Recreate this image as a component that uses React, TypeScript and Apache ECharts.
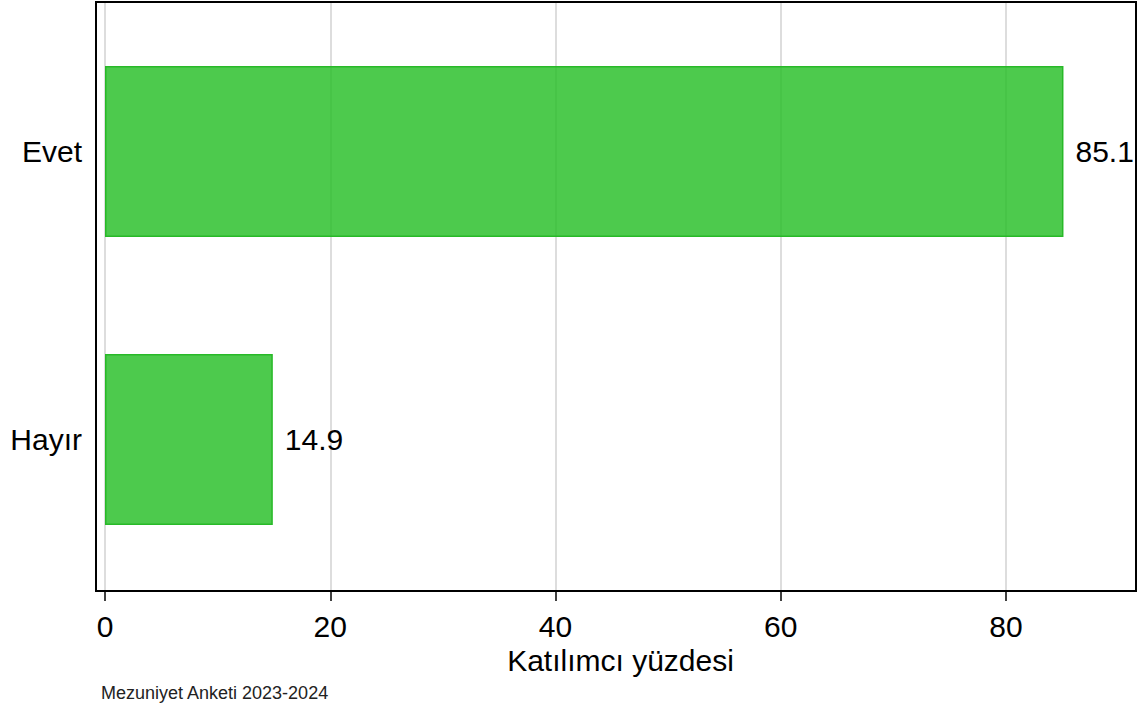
import React, { useEffect, useRef } from "react";
import * as echarts from "echarts";

const categories = ["Evet", "Hayır"];
const values = [85.1, 14.9];
const xTicks = [0, 20, 40, 60, 80];
const xAxisTitle = "Katılımcı yüzdesi";
const footnote = "Mezuniyet Anketi 2023-2024";

export default function App() {
  const ref = useRef<HTMLDivElement>(null);
  useEffect(() => {
    if (!ref.current) return;
    const chart = echarts.init(ref.current, undefined, { renderer: "svg" });
    const font = "'Liberation Sans', Arial, sans-serif";
    const xMin = 0;
    const xMax = 91.54;
    chart.setOption({
      animation: false,
      backgroundColor: "#ffffff",
      grid: [
        { left: 105, right: 4, top: 2, height: 589 },
        { left: 105, right: 4, top: 7.5, height: 576 },
      ],
      xAxis: [
        {
          gridIndex: 0,
          type: "value",
          min: xMin,
          max: xMax,
          interval: 20,
          name: xAxisTitle,
          nameLocation: "middle",
          nameGap: 52,
          nameTextStyle: { fontFamily: font, fontSize: 30, color: "#000" },
          axisLine: { show: false },
          axisTick: { show: true, length: 10, lineStyle: { color: "#000", width: 1.5 } },
          axisLabel: {
            fontFamily: font,
            fontSize: 30,
            color: "#000",
            margin: 20,
            showMaxLabel: false,
            formatter: (v: number) => (xTicks.includes(v) ? String(v) : ""),
          },
          splitLine: { show: true, lineStyle: { color: "#dddddd", width: 2 } },
        },
        {
          gridIndex: 1,
          type: "value",
          min: xMin,
          max: xMax,
          show: false,
          splitLine: { show: false },
        },
      ],
      yAxis: [
        {
          gridIndex: 0,
          type: "category",
          data: categories,
          show: false,
        },
        {
          gridIndex: 1,
          type: "category",
          data: categories,
          inverse: true,
          axisLine: { show: false },
          axisTick: { show: false },
          axisLabel: { fontFamily: font, fontSize: 30, color: "#000", margin: 23 },
          splitLine: { show: false },
        },
      ],
      series: [
        {
          type: "bar",
          xAxisIndex: 1,
          yAxisIndex: 1,
          data: values,
          barWidth: 171,
          itemStyle: {
            color: "rgba(38,190,38,0.82)",
            borderColor: "rgb(40,185,40)",
            borderWidth: 1.5,
          },
          label: {
            show: true,
            position: "right",
            distance: 12,
            fontFamily: font,
            fontSize: 30,
            color: "#000",
            formatter: (p: any) => p.value.toFixed(1),
          },
        },
      ],
      graphic: [
        {
          type: "rect",
          shape: { x: 96, y: 2, width: 1040, height: 589 },
          style: { fill: "none", stroke: "#000", lineWidth: 2 },
          z: 100,
        },
        {
          type: "text",
          left: 101,
          top: 684,
          style: { text: footnote, fontFamily: font, fontSize: 18, fill: "#222" },
        },
      ],
    });
    return () => chart.dispose();
  }, []);
  return <div ref={ref} style={{ width: 1140, height: 713, position: "absolute", left: 0, top: 0 }} />;
}
